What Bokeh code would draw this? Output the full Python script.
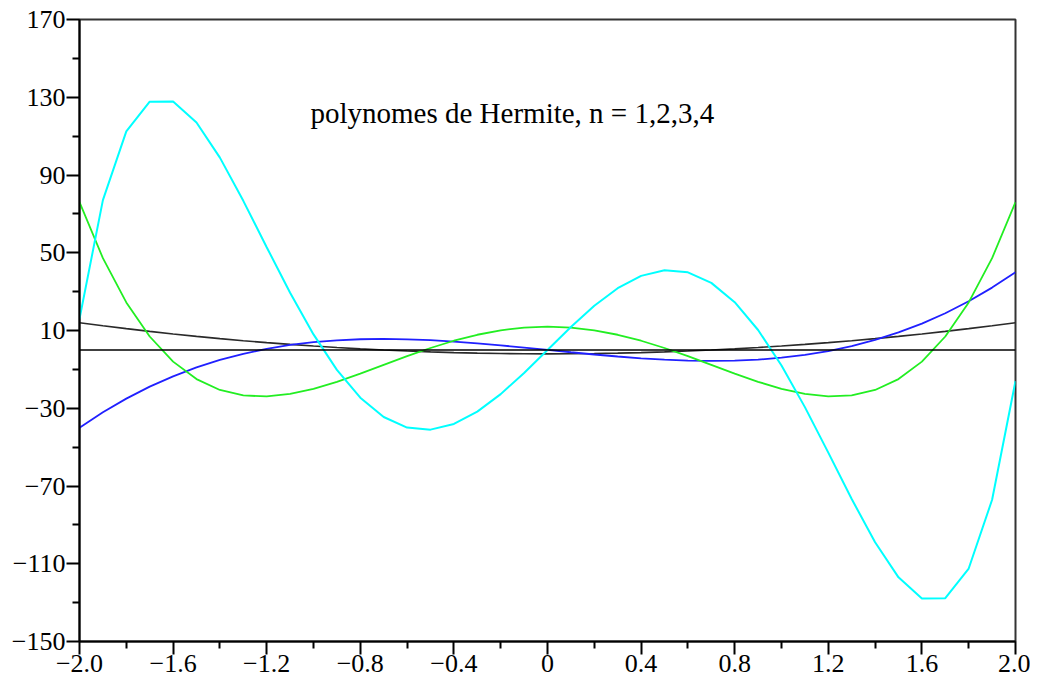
from bokeh.plotting import figure
from bokeh.models import FixedTicker, Span, Label, Range1d
from bokeh.embed import file_html
from bokeh.resources import INLINE

x = [-2.0, -1.9, -1.8, -1.7, -1.6, -1.5, -1.4, -1.3, -1.2, -1.1, -1.0,
     -0.9, -0.8, -0.7, -0.6, -0.5, -0.4, -0.3, -0.2, -0.1, 0.0,
     0.1, 0.2, 0.3, 0.4, 0.5, 0.6, 0.7, 0.8, 0.9, 1.0,
     1.1, 1.2, 1.3, 1.4, 1.5, 1.6, 1.7, 1.8, 1.9, 2.0]

h2 = [14, 12.44, 10.96, 9.56, 8.24, 7, 5.84, 4.76, 3.76, 2.84, 2,
      1.24, 0.56, -0.04, -0.56, -1, -1.36, -1.64, -1.84, -1.96, -2,
      -1.96, -1.84, -1.64, -1.36, -1, -0.56, -0.04, 0.56, 1.24, 2,
      2.84, 3.76, 4.76, 5.84, 7, 8.24, 9.56, 10.96, 12.44, 14]

h3 = [-40, -32.07, -25.06, -18.9, -13.57, -9, -5.15, -1.98, 0.58, 2.55, 4,
      4.97, 5.5, 5.66, 5.47, 5, 4.29, 3.38, 2.34, 1.19, 0,
      -1.19, -2.34, -3.38, -4.29, -5, -5.47, -5.66, -5.5, -4.97, -4,
      -2.55, -0.58, 1.98, 5.15, 9, 13.57, 18.9, 25.06, 32.07, 40]

h4 = [76, 47.23, 24.44, 6.91, -6.02, -15, -20.61, -23.42, -23.94, -22.65, -20,
      -16.38, -12.17, -7.68, -3.21, 1, 4.73, 7.81, 10.11, 11.52, 12,
      11.52, 10.11, 7.81, 4.73, 1, -3.21, -7.68, -12.17, -16.38, -20,
      -22.65, -23.94, -23.42, -20.61, -15, -6.02, 6.91, 24.44, 47.23, 76]

h5 = [16, 77.09, 112.46, 127.73, 127.82, 117, 98.94, 76.71, 52.85, 29.42, 8,
      -10.26, -24.57, -34.5, -39.93, -41, -38.09, -31.76, -22.73, -11.84, 0,
      11.84, 22.73, 31.76, 38.09, 41, 39.93, 34.5, 24.57, 10.26, -8,
      -29.42, -52.85, -76.71, -98.94, -117, -127.82, -127.73, -112.46, -77.09, -16]

x_ticks = [-2.0, -1.6, -1.2, -0.8, -0.4, 0.0, 0.4, 0.8, 1.2, 1.6, 2.0]
x_tick_labels = ["\u22122.0", "\u22121.6", "\u22121.2", "\u22120.8", "\u22120.4", "0",
                 "0.4", "0.8", "1.2", "1.6", "2.0"]
x_minor = [-1.8, -1.4, -1.0, -0.6, -0.2, 0.2, 0.6, 1.0, 1.4, 1.8]
y_ticks = [-150, -110, -70, -30, 10, 50, 90, 130, 170]
y_tick_labels = ["\u2212150", "\u2212110", "\u221270", "\u221230", "10", "50", "90", "130", "170"]
y_minor = [-130, -90, -50, -10, 30, 70, 110, 150]

title_text = "polynomes de Hermite, n = 1,2,3,4"

FONT = "Liberation Serif"

p = figure(width=1030, height=684, output_backend="svg", toolbar_location=None,
           x_range=Range1d(-2.0, 2.0), y_range=Range1d(-150, 170),
           min_border_left=79, min_border_top=19, min_border_right=15, min_border_bottom=43)
p.background_fill_color = "white"
p.border_fill_color = "white"
p.outline_line_color = "#333333"
p.outline_line_width = 2
p.xgrid.visible = False
p.ygrid.visible = False

p.line(x, h2, line_color="#2a2a2a", line_width=1.6)
p.line(x, h3, line_color="#2020ff", line_width=1.8)
p.line(x, h4, line_color="#22ee22", line_width=1.8)
p.line(x, h5, line_color="#00ffff", line_width=2)

p.add_layout(Span(location=0, dimension="width", line_color="black", line_width=1.6))

p.add_layout(Label(x=-1.013, y=122, text=title_text, text_font=FONT, text_font_size="29px",
                   text_color="black", text_baseline="alphabetic"))

p.xaxis.ticker = FixedTicker(ticks=x_ticks, minor_ticks=x_minor)
p.xaxis.major_label_overrides = {t: l for t, l in zip(x_ticks, x_tick_labels)}
p.yaxis.ticker = FixedTicker(ticks=y_ticks, minor_ticks=y_minor)
p.yaxis.major_label_overrides = {t: l for t, l in zip(y_ticks, y_tick_labels)}

for ax in (p.xaxis[0], p.yaxis[0]):
    ax.axis_line_color = "black"
    ax.axis_line_width = 2
    ax.major_tick_line_color = "black"
    ax.major_tick_line_width = 2
    ax.minor_tick_line_color = "black"
    ax.minor_tick_line_width = 2
    ax.major_tick_in = 0
    ax.major_tick_out = 13
    ax.minor_tick_in = 0
    ax.minor_tick_out = 7
    ax.major_label_text_font = FONT
    ax.major_label_text_font_size = "26px"
    ax.major_label_text_color = "black"

p.xaxis.major_label_standoff = 0
p.yaxis.major_label_standoff = 1

open("out.html", "w").write(file_html(p, INLINE))
